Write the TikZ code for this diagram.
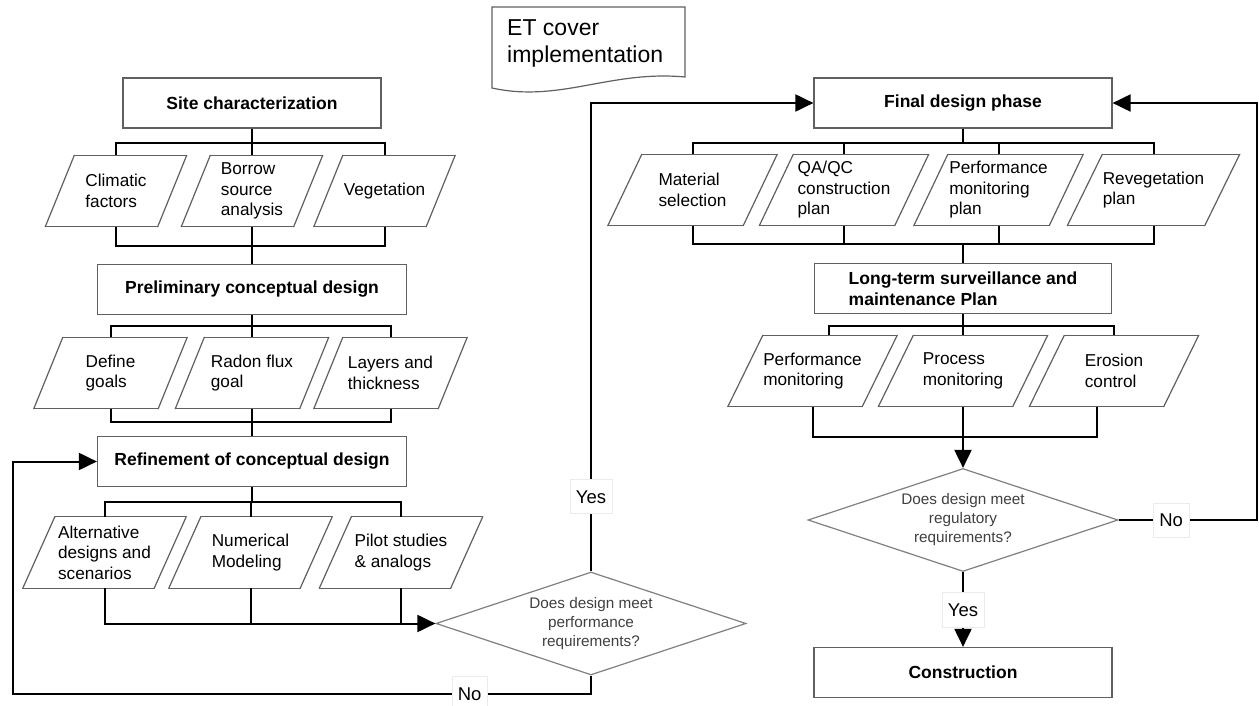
\documentclass[tikz,border=0pt]{standalone}
\usepackage{fontspec}
\setmainfont{Liberation Sans}
\usepackage{xcolor}
\usepackage{tikz}
\usetikzlibrary{arrows.meta,shapes.geometric,calc}

\definecolor{edgegray}{RGB}{96,96,96}
\definecolor{diagray}{RGB}{128,128,128}
\definecolor{qgray}{RGB}{64,64,64}

\begin{document}
\begin{tikzpicture}
    [
      x = 1pt, y = -1pt,
      shape line/.style = {draw=edgegray, line width=1.2pt, line cap=round},
      box/.style = {draw=edgegray, line width=1.2pt, minimum width=#1, minimum height=50,
        inner sep=0pt, font=\fontsize{17.5}{21.5}\selectfont\bfseries},
      para/.style 2 args = {minimum width=#1, minimum height=71, inner sep=0pt, align=left,
        font=\fontsize{17.2}{20.5}\selectfont,
        append after command={\pgfextra{\let\pnode\tikzlastnode}
          ([xshift=#2]\pnode.north west) edge[shape line] (\pnode.north east)
          (\pnode.north east) edge[shape line] ([xshift=-#2]\pnode.south east)
          ([xshift=-#2]\pnode.south east) edge[shape line] (\pnode.south west)
          (\pnode.south west) edge[shape line] ([xshift=#2]\pnode.north west)}},
      decide/.style = {diamond, aspect=3, draw=diagray, line width=1.2pt, minimum width=310,
        minimum height=103, inner sep=0pt, align=center, text=qgray,
        font=\fontsize{15.3}{19}\selectfont},
      lab/.style = {fill=white, draw=black!8, line width=0.5pt, inner xsep=6pt, inner ysep=10.5pt,
        text height=13.5, text depth=0, font=\fontsize{18.5}{22}\selectfont},
      flow/.style = {line width=2pt},
      flowarrow/.style = {-{Triangle[length=18pt, width=17pt]}},
    ]

    \fill[white] (0,0) rectangle (1259,706);
    \useasboundingbox (0,0) rectangle (1259,706);

    \draw[shape line] (492,7) -- (685,7) -- (685,77)
      .. controls (610,70) and (560,103) .. (492,88) -- cycle;
    \node[anchor=west, align=left, inner sep=0pt, font=\fontsize{23}{27}\selectfont]
      (etcover) at (507,43.5) {ET cover\\implementation};

    \node[box=258] (site) at (252,103) {Site characterization};
    \node[para={141}{29}] (clim) at (116,191) {Climatic\\factors};
    \node[para={141}{29}] (borrow) at (252,191) {Borrow\\source\\analysis};
    \node[para={141}{29}] (veg) at (384.5,191) {Vegetation};
    \node[box=309] (prelim) at (252,289.5) {Preliminary conceptual design};
    \node[para={153}{29}] (goals) at (110.5,373) {Define\\goals};
    \node[para={153}{29}] (radon) at (252,373) {Radon flux\\goal};
    \node[para={153}{29}] (layers) at (390.5,373) {Layers and\\thickness};
    \node[box=309] (refine) at (252,461.5) {Refinement of conceptual design};
    \node[para={163}{32}] (alt) at (104.5,552.5) {Alternative\\designs and\\scenarios};
    \node[para={163}{32}] (num) at (250.5,552.5) {Numerical\\Modeling};
    \node[para={163}{32}] (pilot) at (401,552.5) {Pilot studies\\\& analogs};
    \node[decide] (perfq) at (591,623.5) {Does design meet\\performance\\requirements?};

    \node[box=298] (final) at (963,103) {Final design phase};
    \node[para={169}{34}] (mat) at (692.5,190) {Material\\selection};
    \node[para={169}{34}] (qaqc) at (844,190) {QA/QC\\construction\\plan};
    \node[para={169}{34}] (pmp) at (998.5,190) {Performance\\monitoring\\plan};
    \node[para={172}{35}] (reveg) at (1153.5,190) {Revegetation\\plan};
    \node[box=297, align=left] (ltsm) at (963,288.5) {Long-term surveillance and\\maintenance Plan};
    \node[para={169}{35}] (pmon) at (812.5,371) {Performance\\monitoring};
    \node[para={169}{35}] (proc) at (963,371) {Process\\monitoring};
    \node[para={169}{35}] (eros) at (1114,371) {Erosion\\control};
    \node[decide] (regq) at (963,520) {Does design meet\\regulatory\\requirements?};
    \node[box=298] (constr) at (963,672.5) {Construction};

    \coordinate (lturn) at (13,0);
    \coordinate (rturn) at (1257,0);

    \draw[flow] (site.south) -- ++(0,14) -| (clim.north);
    \draw[flow] (site.south) -- ++(0,14) -| (veg.north);
    \draw[flow] (site.south) -- (borrow.north);
    \draw[flow] (clim.south) -- ++(0,19) -| (prelim.north);
    \draw[flow] (veg.south) -- ++(0,19) -| (prelim.north);
    \draw[flow] (borrow.south) -- (prelim.north);
    \draw[flow] (prelim.south) -- ++(0,11) -| (goals.north);
    \draw[flow] (prelim.south) -- ++(0,11) -| (layers.north);
    \draw[flow] (prelim.south) -- (radon.north);
    \draw[flow] (goals.south) -- ++(0,13.5) -| (refine.north);
    \draw[flow] (layers.south) -- ++(0,13.5) -| (refine.north);
    \draw[flow] (radon.south) -- (refine.north);
    \draw[flow] (refine.south) -- ++(0,15) -| (alt.north);
    \draw[flow] (refine.south) -- ++(0,15) -| (pilot.north);
    \draw[flow] (refine.south) -- ++(0,15) -| (num.north);
    \draw[flow, flowarrow] (alt.south) |- (perfq.west);
    \draw[flow] (num.south) -- (num.south |- perfq.west);
    \draw[flow] (pilot.south) -- (pilot.south |- perfq.west);
    \draw[flow, flowarrow] (perfq.north) -- node[lab, pos=0.16] {Yes}
      (perfq.north |- final.west) -- (final.west);
    \draw[flow, flowarrow] (perfq.south) -- ++(0,18) coordinate (nocorner)
      -- node[lab, pos=0.21] {No} (nocorner -| lturn) -- (refine.west -| lturn) -- (refine.west);

    \draw[flow] (final.south) -- ++(0,14) -| (mat.north);
    \draw[flow] (final.south) -- ++(0,14) -| (qaqc.north);
    \draw[flow] (final.south) -- ++(0,14) -| (pmp.north);
    \draw[flow] (final.south) -- ++(0,14) -| (reveg.north);
    \draw[flow] (mat.south) -- ++(0,18) -| (ltsm.north);
    \draw[flow] (qaqc.south) -- ++(0,18) -| (ltsm.north);
    \draw[flow] (pmp.south) -- ++(0,18) -| (ltsm.north);
    \draw[flow] (reveg.south) -- ++(0,18) -| (ltsm.north);
    \draw[flow] (ltsm.south) -- ++(0,12) -| ([xshift=16]pmon.north);
    \draw[flow] (ltsm.south) -- ++(0,12) -| (eros.north);
    \draw[flow] (ltsm.south) -- (proc.north);
    \draw[flow] (pmon.south) -- ++(0,30) -| ([xshift=-17]eros.south);
    \draw[flow, flowarrow] (proc.south) -- (regq.north);
    \draw[flow, flowarrow] (regq.south) -- node[lab] {Yes} (constr.north);
    \draw[flow, flowarrow] (regq.east) -- node[lab, pos=0.38] {No} (regq.east -| rturn)
      -- (final.east -| rturn) -- (final.east);
\end{tikzpicture}
\end{document}
